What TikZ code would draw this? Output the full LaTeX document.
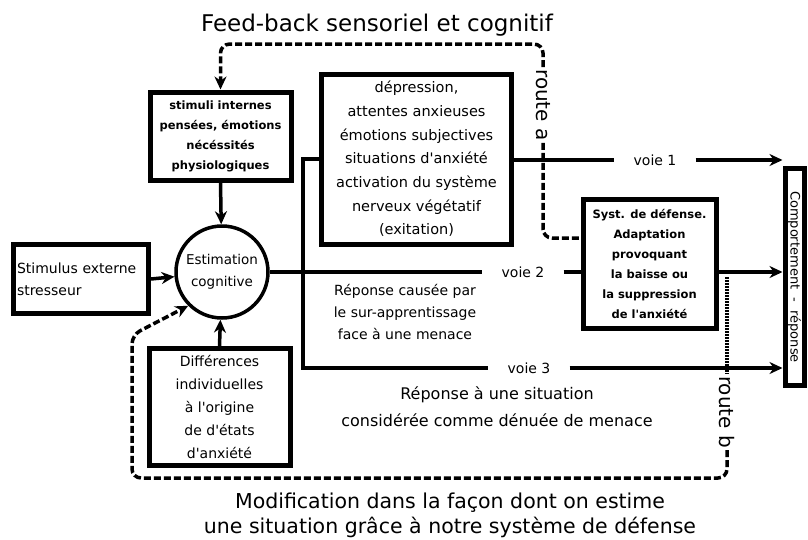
\documentclass[tikz,border=0pt]{standalone}
\usepackage{fontspec}
\setmainfont{DejaVu Sans}[Ligatures=TeXOff]
\usetikzlibrary{positioning,arrows.meta}

\begin{document}
\begin{tikzpicture}[x=1pt,y=-1pt,
    >={Stealth[length=13pt,width=12pt]},
    boxnode/.style={rectangle, draw, line width=5pt, align=center, inner sep=2pt},
    flow/.style={line width=3.5pt},
    fbline/.style={line width=3.5pt, dash pattern=on 7pt off 3pt, rounded corners=9pt},
    voienode/.style={inner xsep=19pt, font=\fontsize{14}{16}\selectfont},
    routenode/.style={rotate=-90, inner sep=2pt, font=\fontsize{20}{22}\selectfont},
    ]
    \useasboundingbox (0,0) rectangle (808,539);

    %Nodes
    \node[font=\fontsize{23}{26}\selectfont] (title) at (377,25) {Feed-back sensoriel et cognitif};
    \node[boxnode, minimum width=141pt, minimum height=88pt, font=\bfseries\fontsize{11.5}{20}\selectfont] (stim) at (220.5,136) {stimuli internes\\pensées, émotions\\nécéssités\\physiologiques};
    \node[circle, draw, line width=3.5pt, minimum size=92pt, inner sep=0pt, align=center, font=\fontsize{13.5}{22}\selectfont] (est) at (222,272) {Estimation\\cognitive};
    \node[boxnode, minimum width=135pt, minimum height=69pt, align=left, text width=128pt, font=\fontsize{14}{22}\selectfont] (ext) at (81,279) {Stimulus externe\\stresseur};
    \node[boxnode, minimum width=190pt, minimum height=170pt, font=\fontsize{14.5}{23.7}\selectfont] (dep) at (416.5,159) {dépression,\\attentes anxieuses\\émotions subjectives\\situations d'anxiété\\activation du système\\nerveux végétatif\\(exitation)};
    \node[boxnode, minimum width=133pt, minimum height=129pt, font=\bfseries\fontsize{11.5}{20}\selectfont] (syst) at (649.5,264) {Syst. de défense.\\Adaptation\\provoquant\\la baisse ou\\la suppression\\de l'anxiété};
    \node[boxnode, minimum width=141pt, minimum height=117pt, font=\fontsize{14}{23}\selectfont] (diff) at (219.5,407) {Différences\\individuelles\\à l'origine\\de d'états\\d'anxiété};
    \node[boxnode, minimum width=19pt, minimum height=217pt, inner sep=0pt, font=\fontsize{13}{14}\selectfont] (comp) at (794.5,277) {\rotatebox{-90}{Comportement\ \ -\ \ réponse}};
    \node[voienode] (v1) at (655,160) {voie 1};
    \node[voienode] (v2) at (523,272) {voie 2};
    \node[voienode] (v3) at (529,368) {voie 3};
    \node[routenode] (routea) at (543,105) {route a};
    \node[routenode] (routeb) at (727,412) {route b};
    \node[align=center, font=\fontsize{14}{22}\selectfont] (rep2) at (405,312) {Réponse causée par\\le sur-apprentissage\\face à une menace};
    \node[align=center, font=\fontsize{16}{27}\selectfont] (rep3) at (497,407) {Réponse à une situation\\considérée comme dénuée de menace};
    \node[align=center, font=\fontsize{20.5}{25}\selectfont] (modif) at (450,515) {Modification dans la façon dont on estime\\une situation grâce à notre système de défense};
    \coordinate (fork) at (303,272);
    \coordinate (rbtop) at (727,277);

    %Lines
    \draw[flow,->] (stim.south) -- (est);
    \draw[flow,->] (ext.east) -- (est);
    \draw[flow,->] (diff.north) -- (est);
    \draw[flow] (dep.west) -| (v3.west -| fork) -- (v3.west);
    \draw[flow] (est.east) -- (v2.west);
    \draw[flow] (v2.east) -- (v2.east -| syst.west);
    \draw[flow] (dep.east |- v1) -- (v1.west);
    \draw[flow,->] (v1.east) -- (comp.west |- v1);
    \draw[flow,->] (syst.east |- v2) -- (comp.west |- v2);
    \draw[flow,->] (v3.east) -- (comp.west |- v3);

    %Routes
    \draw[fbline,->] (routea.west) -- ++(0,-23) -| (stim.north);
    \draw[fbline] (routea.east) |- ([yshift=26pt]syst.west);
    \draw[line width=3.5pt, dash pattern=on 2pt off 1pt] (rbtop) -- (routeb.west);
    \draw[fbline,->] (routeb.east) |- (132,478) -- (132,335) -- (est.225);
\end{tikzpicture}
\end{document}
